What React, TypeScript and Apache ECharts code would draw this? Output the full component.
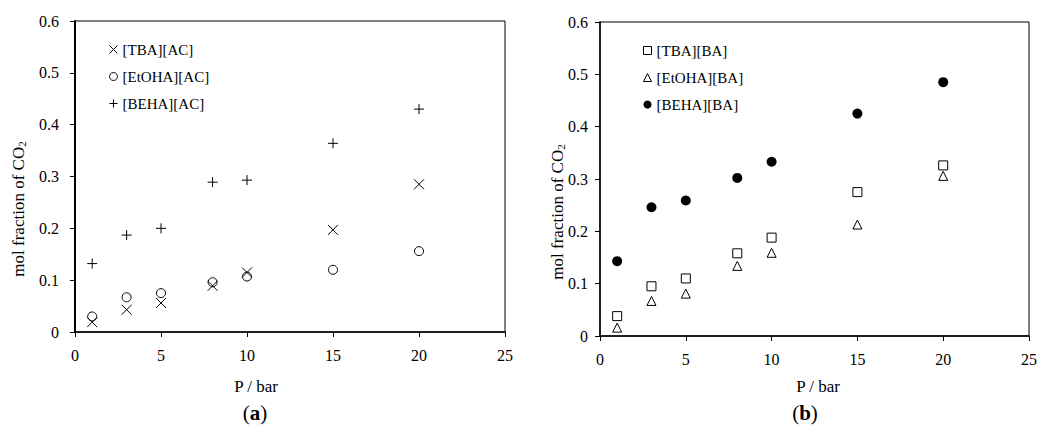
import React, { useEffect, useRef } from "react";
import * as echarts from "echarts";

const pressures = [1, 3, 5, 8, 10, 15, 20];
const tbaAC = [0.019, 0.043, 0.056, 0.089, 0.115, 0.197, 0.285];
const etohaAC = [0.03, 0.067, 0.075, 0.096, 0.107, 0.12, 0.156];
const behaAC = [0.132, 0.187, 0.2, 0.289, 0.293, 0.364, 0.43];
const tbaBA = [0.038, 0.095, 0.11, 0.158, 0.188, 0.275, 0.326];
const etohaBA = [0.016, 0.067, 0.081, 0.134, 0.159, 0.213, 0.306];
const behaBA = [0.143, 0.246, 0.259, 0.302, 0.333, 0.425, 0.485];
const xTicks = [0, 5, 10, 15, 20, 25];
const yTicks = [0, 0.1, 0.2, 0.3, 0.4, 0.5, 0.6];

const FONT = "'Liberation Serif', 'DejaVu Serif', serif";
const CROSS = "path://M0,0L10,10M0,10L10,0";
const PLUS = "path://M5,0L5,10M0,5L10,5";

const pts = (ys: number[]) => pressures.map((p, i) => [p, ys[i]]);

const makeX = (gi: number) => ({
  type: "value",
  gridIndex: gi,
  min: xTicks[0],
  max: xTicks[xTicks.length - 1],
  interval: 5,
  axisLine: { show: true, onZero: false, lineStyle: { color: "#000", width: 1.5 } },
  axisTick: { show: true, inside: false, length: 5, lineStyle: { color: "#000", width: 1 } },
  splitLine: { show: false },
  axisLabel: { color: "#000", fontFamily: FONT, fontSize: 16, margin: 15 },
});

const makeY = (gi: number, margin: number) => ({
  type: "value",
  gridIndex: gi,
  min: yTicks[0],
  max: yTicks[yTicks.length - 1],
  interval: 0.1,
  axisLine: { show: true, onZero: false, lineStyle: { color: "#000", width: gi === 0 ? 2 : 1.5 } },
  axisTick: { show: true, inside: false, length: 5, lineStyle: { color: "#000", width: 1 } },
  splitLine: { show: false },
  axisLabel: {
    color: "#000",
    fontFamily: FONT,
    fontSize: 16,
    margin,
    formatter: (v: number) => (v === 0 ? "0" : v.toFixed(1)),
  },
});

const openStyle = { color: "rgba(0,0,0,0)", borderColor: "#000", borderWidth: 1, opacity: 1 };

export default function App() {
  const ref = useRef<HTMLDivElement>(null);
  useEffect(() => {
    if (!ref.current) return;
    const chart = echarts.init(ref.current, undefined, { renderer: "svg" });
    const legendBase = {
      orient: "vertical",
      itemWidth: 8,
      itemHeight: 8,
      itemGap: 12,
      textStyle: { color: "#000", fontFamily: FONT, fontSize: 15 },
      itemStyle: { borderColor: "inherit", borderWidth: "inherit", color: "inherit", opacity: 1 },
    };
    const ylabel = (x: number, y: number) => ({
      type: "text", x, y, rotation: Math.PI / 2,
      style: {
        text: "mol fraction of CO{s|2}", fill: "#000", font: `17px ${FONT}`,
        align: "center", verticalAlign: "middle",
        rich: { s: { fontSize: 11, fontFamily: FONT, fill: "#000", padding: [7, 0, 0, 0] } },
      },
    });
    const panel = (x: number, letter: string) => ({
      type: "text", x, y: 413,
      style: {
        text: `({b|${letter}})`, fill: "#000", font: `21px ${FONT}`, align: "center", verticalAlign: "middle",
        rich: { b: { fontWeight: "bold", fontSize: 21, fontFamily: FONT, fill: "#000" } },
      },
    });
    chart.setOption({
      animation: false,
      backgroundColor: "#fff",
      grid: [
        { left: 75, top: 21, width: 430, height: 311, show: true, borderColor: "#000", borderWidth: 1 },
        { left: 600, top: 22, width: 430, height: 314, show: true, borderColor: "#000", borderWidth: 1 },
      ],
      xAxis: [makeX(0), makeX(1)],
      yAxis: [makeY(0, 16), makeY(1, 12)],
      legend: [
        { ...legendBase, left: 104, top: 37, data: ["[TBA][AC]", "[EtOHA][AC]", "[BEHA][AC]"] },
        { ...legendBase, left: 638, top: 38, data: ["[TBA][BA]", "[EtOHA][BA]", "[BEHA][BA]"] },
      ],
      series: [
        { name: "[TBA][AC]", type: "scatter", xAxisIndex: 0, yAxisIndex: 0, symbol: CROSS, symbolSize: 10, itemStyle: openStyle, data: pts(tbaAC) },
        { name: "[EtOHA][AC]", type: "scatter", xAxisIndex: 0, yAxisIndex: 0, symbol: "circle", symbolSize: 9, itemStyle: openStyle, data: pts(etohaAC) },
        { name: "[BEHA][AC]", type: "scatter", xAxisIndex: 0, yAxisIndex: 0, symbol: PLUS, symbolSize: 10, itemStyle: openStyle, data: pts(behaAC) },
        { name: "[TBA][BA]", type: "scatter", xAxisIndex: 1, yAxisIndex: 1, symbol: "rect", symbolSize: 9, itemStyle: openStyle, data: pts(tbaBA) },
        { name: "[EtOHA][BA]", type: "scatter", xAxisIndex: 1, yAxisIndex: 1, symbol: "triangle", symbolSize: 9, itemStyle: openStyle, data: pts(etohaBA) },
        { name: "[BEHA][BA]", type: "scatter", xAxisIndex: 1, yAxisIndex: 1, symbol: "circle", symbolSize: 10, itemStyle: { color: "#000", borderColor: "#000", borderWidth: 0, opacity: 1 }, data: pts(behaBA) },
      ],
      graphic: [
        ylabel(18, 209),
        ylabel(557, 212),
        { type: "text", x: 256, y: 386, style: { text: "P / bar", fill: "#000", font: `17px ${FONT}`, align: "center", verticalAlign: "middle" } },
        { type: "text", x: 818, y: 386, style: { text: "P / bar", fill: "#000", font: `17px ${FONT}`, align: "center", verticalAlign: "middle" } },
        panel(255, "a"),
        panel(805, "b"),
      ],
    });
    return () => chart.dispose();
  }, []);
  return <div ref={ref} style={{ width: 1040, height: 432, position: "absolute", left: 0, top: 0 }} />;
}
